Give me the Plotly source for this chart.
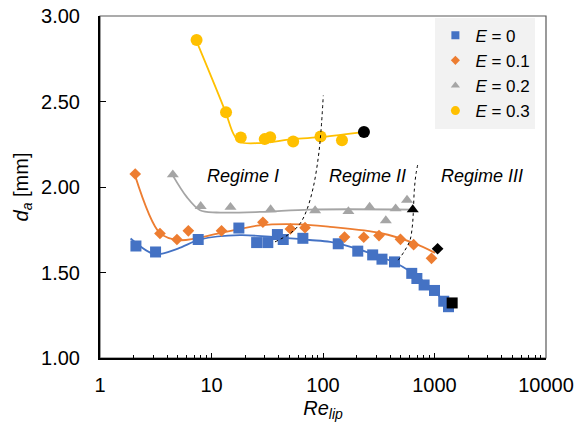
import plotly.graph_objects as go

# Measured droplet diameter vs lip Reynolds number for each E
re_e0 = [2.1, 3.15, 7.6, 17.6, 25.4, 32, 39, 44, 66, 137, 205, 279, 338, 438, 625, 695, 807, 1000, 1210, 1335]
da_e0 = [1.655, 1.62, 1.693, 1.76, 1.675, 1.675, 1.722, 1.693, 1.70, 1.668, 1.625, 1.603, 1.578, 1.562,
         1.495, 1.465, 1.427, 1.395, 1.332, 1.30]

re_e01 = [2.07, 3.45, 4.9, 6.2, 12.3, 28.9, 51, 69, 156, 232, 318, 495, 650, 940]
da_e01 = [2.076, 1.728, 1.693, 1.744, 1.744, 1.794, 1.755, 1.762, 1.707, 1.706, 1.716, 1.694, 1.663, 1.583]

re_e02 = [4.5, 8.0, 14.8, 33.9, 85, 169, 262, 366, 448, 567]
da_e02 = [2.072, 1.887, 1.882, 1.868, 1.862, 1.857, 1.883, 1.804, 1.873, 1.924]

re_e03 = [7.35, 13.5, 18.3, 30, 33.6, 54, 95, 148]
da_e03 = [2.859, 2.437, 2.289, 2.280, 2.291, 2.266, 2.295, 2.274]

# Transition points (black markers)
re_end = [1440, 1066, 638, 233]
da_end = [1.322, 1.639, 1.868, 2.322]
end_symbols = ["square", "diamond", "triangle-up", "circle"]
end_sizes = [11, 9, 10.5, 12]

# Trend curves
fit_re_e0 = [1.88, 3.1, 5, 7.9, 18, 40, 76, 116, 200, 324, 458, 741, 1120, 1330]
fit_da_e0 = [1.699, 1.607, 1.64, 1.693, 1.718, 1.705, 1.69, 1.679, 1.64, 1.591, 1.553, 1.465, 1.358, 1.31]

fit_re_e01 = [2.06, 3.45, 5.2, 11.9, 27.2, 62, 115.6, 325, 646, 1010]
fit_da_e01 = [2.068, 1.73, 1.689, 1.73, 1.776, 1.782, 1.767, 1.731, 1.673, 1.615]

fit_re_e02 = [4.49, 5.99, 7.89, 11.1, 27.2, 76.4, 640]
fit_da_e02 = [2.068, 1.942, 1.864, 1.851, 1.854, 1.868, 1.868]

fit_re_e03 = [7.26, 13.4, 15.7, 18, 27.2, 54.2, 100, 233]
fit_da_e03 = [2.86, 2.436, 2.312, 2.263, 2.257, 2.28, 2.293, 2.322]

# Regime boundaries
b1_re = [37.1, 50.6, 62.2, 71.4, 81.9, 90.8, 96, 100.6]
b1_da = [1.679, 1.728, 1.786, 1.864, 2.0, 2.175, 2.331, 2.535]
b2_re = [473, 543, 603, 632, 645, 659, 683, 716]
b2_da = [1.572, 1.63, 1.689, 1.767, 1.845, 1.981, 2.078, 2.146]

# Regime label positions (log10 Re, d_a)
regime_labels = ["Regime I", "Regime II", "Regime III"]
regime_logx = [1.279, 2.400, 3.426]
regime_y = [2.064, 2.064, 2.064]

FONT = "Liberation Sans, Arial, sans-serif"
colors = ["#4472C4", "#ED7D31", "#A5A5A5", "#FFC000"]
names = ["<i>E</i> = 0", "<i>E</i> = 0.1", "<i>E</i> = 0.2", "<i>E</i> = 0.3"]
symbols = ["square", "diamond", "triangle-up", "circle"]
sizes = [11, 9, 10.5, 12]
legend_sizes = [8, 7, 8, 9]

fig = go.Figure()

fits = [(fit_re_e0, fit_da_e0), (fit_re_e01, fit_da_e01), (fit_re_e02, fit_da_e02), (fit_re_e03, fit_da_e03)]
for (fx, fy), c in zip(fits, colors):
    fig.add_trace(go.Scatter(x=fx, y=fy, mode="lines", showlegend=False, hoverinfo="skip",
                             line=dict(color=c, width=1.8, shape="spline", smoothing=0.9)))

series = [(re_e0, da_e0), (re_e01, da_e01), (re_e02, da_e02), (re_e03, da_e03)]
for (sx, sy), c, n, s, sz in zip(series, colors, names, symbols, sizes):
    fig.add_trace(go.Scatter(x=sx, y=sy, mode="markers", name=n, showlegend=False,
                             marker=dict(color=c, symbol=s, size=sz, opacity=1, line=dict(width=0))))

# legend keys with smaller symbols
for c, n, s, lsz in zip(colors, names, symbols, legend_sizes):
    fig.add_trace(go.Scatter(x=[None], y=[None], mode="markers", name=n,
                             marker=dict(color=c, symbol=s, size=lsz, line=dict(width=0))))

fig.add_trace(go.Scatter(x=re_end, y=da_end, mode="markers", showlegend=False,
                         marker=dict(color="#000000", symbol=end_symbols, size=end_sizes, opacity=1,
                                     line=dict(width=0))))

for bx, by in [(b1_re, b1_da), (b2_re, b2_da)]:
    fig.add_trace(go.Scatter(x=bx, y=by, mode="lines", showlegend=False, hoverinfo="skip",
                             line=dict(color="black", width=1, dash="dot", shape="spline")))

for txt, lx, ly in zip(regime_labels, regime_logx, regime_y):
    fig.add_annotation(x=lx, y=ly, text=f"<i>{txt}</i>", showarrow=False,
                       font=dict(family=FONT, size=18, color="black"))

# thin frame on top/right
fig.add_shape(type="rect", xref="paper", yref="paper", x0=0, x1=1, y0=0, y1=1,
              line=dict(color="#595959", width=1.2), layer="below")

fig.update_layout(
    width=576, height=433,
    margin=dict(l=100, r=30, t=16, b=75),
    plot_bgcolor="white", paper_bgcolor="white",
    font=dict(family=FONT, size=18, color="black"),
    showlegend=True,
    legend=dict(x=0.752, y=0.995, xanchor="left", yanchor="top",
                bgcolor="#F2F2F2", borderwidth=0,
                font=dict(family=FONT, size=17, color="black"),
                tracegroupgap=0, itemwidth=30),
    xaxis=dict(type="log", range=[0, 4], showgrid=False, zeroline=False, automargin=False,
               showline=True, linecolor="black", linewidth=2,
               ticks="inside", ticklen=5, tickcolor="black", tickwidth=1,
               tickvals=[1, 10, 100, 1000, 10000], ticktext=["1", "10", "100", "1000", "10000"],
               tickfont=dict(size=20), ticklabelstandoff=8,
               minor=dict(ticks="inside", ticklen=3, tickcolor="black", dtick="D1", showgrid=False),
               title=dict(text="<i>Re</i><sub><i>lip</i></sub>", font=dict(size=20), standoff=6)),
    yaxis=dict(range=[1, 3], showgrid=False, zeroline=False, automargin=False,
               showline=True, linecolor="black", linewidth=2,
               ticks="inside", ticklen=6, tickcolor="black", tickwidth=1,
               tickvals=[1.0, 1.5, 2.0, 2.5, 3.0], tickformat=".2f",
               tickfont=dict(size=20), ticklabelstandoff=14,
               title=dict(text="<i>d</i><sub><i>a</i></sub> [mm]", font=dict(size=20), standoff=7)),
)

fig.write_html("out.html")
